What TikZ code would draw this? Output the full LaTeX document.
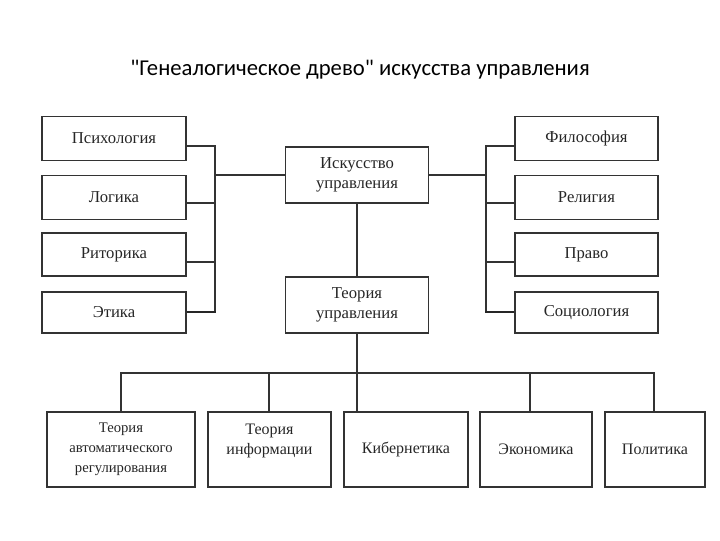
\documentclass[tikz,border=0pt]{standalone}
\usepackage{fontspec}
\setmainfont{Liberation Serif}
\newfontfamily\titlefont{Carlito}
\begin{document}
\begin{tikzpicture}[x=0.75pt,y=-0.75pt,
  box/.style={draw=black!80,line width=1.1pt,rectangle,inner sep=0pt,align=center,font=\fontsize{12.5}{15}\selectfont,text=black!85},
  ln/.style={draw=black!80,line width=1.1pt}]
\useasboundingbox (0,0) rectangle (720,540);
\node[font=\titlefont\fontsize{17}{20}\selectfont] (title) at (360,70) {"Генеалогическое древо" искусства управления};
% left
\node[box,minimum width=108pt,minimum height=33pt] (psy) at (114,138.5) {Психология};
\node[box,minimum width=108pt,minimum height=33pt] (log) at (114,197.5) {Логика};
\node[box,minimum width=108pt,minimum height=32pt] (rit) at (114,254.5) {Риторика};
\node[box,minimum width=108pt,minimum height=31pt] (eth) at (114,312.5) {Этика};
% right
\node[box,minimum width=107pt,minimum height=33pt] (phi) at (586.5,138.5) {Философия};
\node[box,minimum width=107pt,minimum height=33pt] (rel) at (586.5,197.5) {Религия};
\node[box,minimum width=107pt,minimum height=32pt] (law) at (586.5,254.5) {Право};
\node[box,minimum width=107pt,minimum height=31pt] (soc) at (586.5,312.5) {Социология};
% center
\node[box,minimum width=107pt,minimum height=42pt] (art) at (357,175) {Искусство\\управления};
\node[box,minimum width=107pt,minimum height=42pt] (the) at (357,305) {Теория\\управления};
% bottom
\node[box,minimum width=111pt,minimum height=56pt,font=\fontsize{11}{15}\selectfont] (b1) at (121,449.5) {Теория\\автоматического\\регулирования};
\node[box,minimum width=92pt,minimum height=56pt,font=\fontsize{12}{15}\selectfont] (b2) at (269.5,449.5) {Теория\\информации\\\mbox{}};
\node[box,minimum width=93pt,minimum height=56pt,font=\fontsize{12}{15}\selectfont] (b3) at (406,449.5) {Кибернетика};
\node[box,minimum width=84pt,minimum height=56pt,font=\fontsize{12}{15}\selectfont] (b4) at (536,449.5) {Экономика};
\node[box,minimum width=75pt,minimum height=56pt,font=\fontsize{12}{15}\selectfont] (b5) at (655,449.5) {Политика};
% coordinates
\coordinate (lv) at (215,146);
\coordinate (rv) at (486,146);
\coordinate (hb) at (357,373);
% left tree
\draw[ln] (psy.east |- lv) -- (lv) -- (215,312);
\draw[ln] (log.east |- 0,203) -- (215,203);
\draw[ln] (rit.east |- 0,262) -- (215,262);
\draw[line width=2pt,black!85] (eth.east |- 0,312) -- (216,312);
\draw[ln] (215,175) -- (art.west);
% right tree
\draw[ln] (phi.west |- rv) -- (rv) -- (486,312);
\draw[ln] (rel.west |- 0,203) -- (486,203);
\draw[ln] (law.west |- 0,262) -- (486,262);
\draw[line width=2pt,black!85] (soc.west |- 0,312) -- (485,312);
\draw[ln] (art.east) -- (486,175);
% center
\draw[ln] (art.south) -- (the.north);
\draw[ln] (the.south) -- (hb);
\draw[ln] (121,412) -- (121,373) -- (654,373) -- (654,412);
\draw[ln] (269,373) -- (269,412);
\draw[ln] (hb) -- (357,412);
\draw[ln] (530,373) -- (530,412);
\end{tikzpicture}
\end{document}
